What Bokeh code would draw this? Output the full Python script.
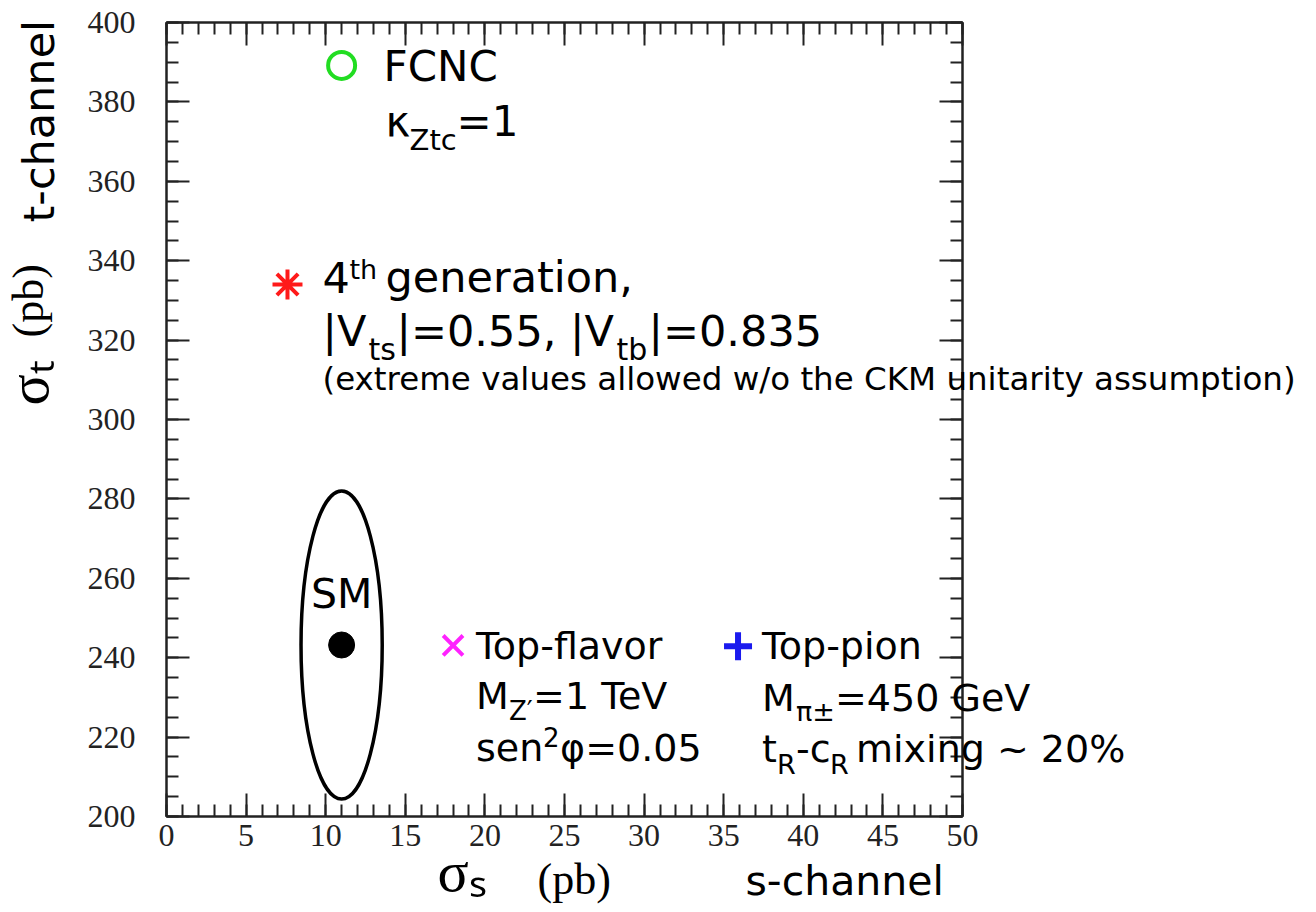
import math
from bokeh.plotting import figure
from bokeh.models import Range1d, LinearAxis, SingleIntervalTicker, Label
from bokeh.embed import file_html
from bokeh.resources import INLINE

# ---------------- data ----------------
model_names = ["SM", "FCNC", "4th generation", "Top-flavor", "Top-pion"]
sigma_s = [11.0, 11.0, 7.6, 18.0, 35.9]        # s-channel cross section (pb)
sigma_t = [243.2, 389.2, 334.0, 243.1, 242.9]  # t-channel cross section (pb)
sm_ellipse_w = 5.1    # full width of SM contour (pb, s-channel)
sm_ellipse_h = 77.6   # full height of SM contour (pb, t-channel)

x_start, x_end = 0, 50
y_start, y_end = 200, 400

SANS = "DejaVu Sans"
SERIF = "Liberation Serif"

p = figure(frame_width=796, frame_height=794, output_backend="svg", toolbar_location=None,
           x_range=Range1d(x_start, x_end), y_range=Range1d(y_start, y_end),
           x_axis_location=None, y_axis_location=None,
           min_border_left=166, min_border_right=10, min_border_top=22, min_border_bottom=94)
p.grid.visible = False
p.outline_line_color = "#222222"
p.outline_line_width = 2
p.background_fill_color = "white"
p.border_fill_color = "white"


def make_axis(ticker, show_labels):
    ax = LinearAxis(ticker=ticker)
    ax.axis_line_color = "#222222"
    ax.axis_line_width = 2
    ax.major_tick_in = 23
    ax.major_tick_out = 0
    ax.minor_tick_in = 12
    ax.minor_tick_out = 0
    ax.major_tick_line_color = "#222222"
    ax.minor_tick_line_color = "#222222"
    ax.major_tick_line_width = 2
    ax.minor_tick_line_width = 2
    if show_labels:
        ax.major_label_text_font = SERIF
        ax.major_label_text_font_size = "32px"
        ax.major_label_text_color = "#222222"
    else:
        ax.major_label_text_font_size = "0px"
        ax.major_label_standoff = 0
    return ax


bx = make_axis(SingleIntervalTicker(interval=5, num_minor_ticks=5), True)
bx.major_label_standoff = 8
p.add_layout(bx, "below")
ly = make_axis(SingleIntervalTicker(interval=20, num_minor_ticks=4), True)
ly.major_label_standoff = 31
p.add_layout(ly, "left")
p.add_layout(make_axis(SingleIntervalTicker(interval=5, num_minor_ticks=5), False), "above")
p.add_layout(make_axis(SingleIntervalTicker(interval=20, num_minor_ticks=4), False), "right")

# ---------------- marks ----------------
sm, fcnc, gen4, tflav, tpion = range(5)
p.ellipse(x=[sigma_s[sm]], y=[sigma_t[sm]], width=[sm_ellipse_w], height=[sm_ellipse_h],
          fill_color=None, line_color="black", line_width=3.5)
p.scatter(x=[sigma_s[sm]], y=[sigma_t[sm]], marker="circle", size=26,
          fill_color="black", line_color="black")
p.scatter(x=[sigma_s[fcnc]], y=[sigma_t[fcnc]], marker="circle", size=27,
          fill_color=None, line_color="#22dd22", line_width=4)
p.scatter(x=[sigma_s[gen4]], y=[sigma_t[gen4]], marker="asterisk", size=30,
          line_color="#ff1a1a", line_width=4)
p.scatter(x=[sigma_s[tflav]], y=[sigma_t[tflav]], marker="x", size=28,
          line_color="#ff22ff", line_width=4)
p.scatter(x=[sigma_s[tpion]], y=[sigma_t[tpion]], marker="cross", size=28,
          line_color="#1a1aee", line_width=6)

SHIFT = 0.38  # empirical baseline correction (fraction of font size)


def piece(ax, ay, dx, dy, text, size, font=SANS, align="left", angle=0.0, place="center"):
    # texts that lie outside the frame go to a side panel so they are not clipped
    if angle:
        dx = dx - SHIFT * size
    else:
        dy = dy + SHIFT * size
    lab = Label(x=ax, y=ay, x_offset=dx, y_offset=dy, text=text,
                text_font=font, text_font_size=f"{size}px", text_color="black",
                text_align=align, text_baseline="alphabetic", angle=angle)
    p.add_layout(lab, place)


# FCNC
fx, fy = sigma_s[fcnc], sigma_t[fcnc]
piece(fx, fy, 42, -17, "FCNC", 42)
piece(fx, fy, 44, -72, "κ", 42)
piece(fx, fy, 68, -86, "Ztc", 29)
piece(fx, fy, 115, -72, "=1", 42)

# 4th generation
gx, gy = sigma_s[gen4], sigma_t[gen4]
piece(gx, gy, 35, -9, "4", 43)
piece(gx, gy, 62, 5, "th", 27)
piece(gx, gy, 98, -9, "generation,", 43)
piece(gx, gy, 35, -63, "|V", 43)
piece(gx, gy, 81, -76, "ts", 30)
piece(gx, gy, 109, -63, "|=0.55, |V", 43)
piece(gx, gy, 329, -76, "tb", 30)
piece(gx, gy, 361, -63, "|=0.835", 43)
piece(gx, gy, 35, -107, "(extreme values allowed w/o the CKM unitarity assumption)", 32.5,
      place="right")

# SM
piece(sigma_s[sm], sigma_t[sm], 0, 35, "SM", 41, align="center")

# Top-flavor
tx, ty = sigma_s[tflav], sigma_t[tflav]
piece(tx, ty, 23, -15, "Top-flavor", 38)
piece(tx, ty, 23, -65, "M", 38)
piece(tx, ty, 56, -75, "Z′", 26)
piece(tx, ty, 80, -65, "=1 TeV", 38)
piece(tx, ty, 23, -117, "sen", 38)
piece(tx, ty, 90, -101, "2", 26)
piece(tx, ty, 107, -117, "φ=0.05", 38)

# Top-pion
px_, py_ = sigma_s[tpion], sigma_t[tpion]
piece(px_, py_, 24, -14, "Top-pion", 38)
piece(px_, py_, 24, -66, "M", 38)
piece(px_, py_, 58, -76, "π±", 27)
piece(px_, py_, 97, -66, "=450 GeV", 38, place="right")
piece(px_, py_, 24, -117, "t", 38)
piece(px_, py_, 39, -129, "R", 27)
piece(px_, py_, 58, -117, "-c", 38)
piece(px_, py_, 92, -129, "R", 27)
piece(px_, py_, 118, -117, "mixing ~ 20%", 38, place="right")

# axis titles (anchored at the frame's bottom-left corner)
piece(x_start, y_start, 271, -77, "σₛ", 58, font=SERIF, place="right")
piece(x_start, y_start, 371, -80, "(pb)", 44, font=SERIF, place="below")
piece(x_start, y_start, 579, -80, "s-channel", 41, place="right")

half_pi = math.pi / 2
piece(x_start, y_start, -111, 594, "t-channel", 43, angle=half_pi, place="right")
piece(x_start, y_start, -116, 411, "σₜ", 58, font=SERIF, angle=half_pi, place="left")
piece(x_start, y_start, -121, 479, "(pb)", 44, font=SERIF, angle=half_pi, place="right")

open("out.html", "w").write(file_html(p, INLINE))
